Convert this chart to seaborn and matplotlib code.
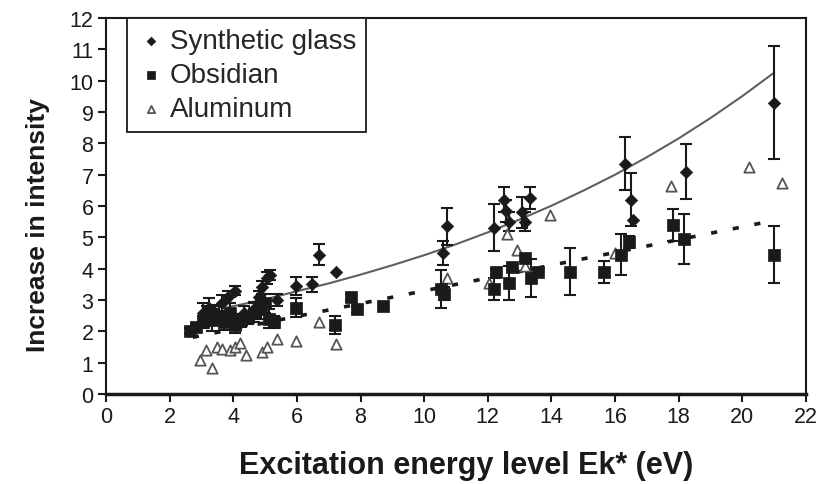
import numpy as np
import pandas as pd
import matplotlib
matplotlib.use("Agg")
import matplotlib.pyplot as plt
import seaborn as sns

# ---------------- data ----------------
glass_x = [3.04, 3.24, 3.44, 3.65, 3.85, 4.05, 4.35, 4.66, 4.81, 4.91, 5.06, 5.16, 5.37,
           5.97, 6.48, 6.68, 7.24, 10.58, 10.73, 12.18, 12.52, 12.58, 12.66, 13.06,
           13.16, 13.34, 16.3, 16.5, 16.56, 18.23, 21.0]
glass_y = [2.6, 2.75, 2.6, 2.9, 3.1, 3.3, 2.6, 2.7, 3.1, 3.4, 3.7, 3.8, 3.0,
           3.45, 3.5, 4.45, 3.9, 4.5, 5.35, 5.3, 6.2, 5.85, 5.5, 5.8,
           5.5, 6.25, 7.35, 6.2, 5.55, 7.1, 9.3]
glass_err = [0.3, 0.3, 0.25, 0.25, 0.2, 0.15, 0.2, 0.25, 0.2, 0.2, 0.2, 0.15, 0.2,
             0.3, 0.25, 0.33, 0.0, 0.37, 0.58, 0.75, 0.4, 0.35, 0.3, 0.5,
             0.3, 0.35, 0.85, 0.85, 0.0, 0.87, 1.8]

obs_x = [2.63, 2.84, 3.04, 3.19, 3.34, 3.54, 3.7, 3.9, 4.05, 4.25, 4.46, 4.66, 4.86,
         5.01, 5.11, 5.27, 5.97, 7.19, 7.7, 7.9, 8.71, 10.53, 10.63, 12.2, 12.25,
         12.66, 12.76, 13.16, 13.37, 13.57, 14.58, 15.64, 16.2, 16.45, 17.82, 18.18, 21.0]
obs_y = [2.0, 2.15, 2.3, 2.5, 2.35, 2.5, 2.3, 2.6, 2.2, 2.35, 2.45, 2.6, 2.7,
         2.9, 2.4, 2.3, 2.75, 2.2, 3.1, 2.7, 2.82, 3.35, 3.2, 3.35, 3.9,
         3.55, 4.05, 4.35, 3.7, 3.9, 3.9, 3.9, 4.45, 4.85, 5.4, 4.95, 4.45]
obs_err = [0.1, 0.1, 0.2, 0.3, 0.35, 0.3, 0.25, 0.3, 0.25, 0.2, 0.2, 0.3, 0.3,
           0.3, 0.3, 0.2, 0.3, 0.3, 0.1, 0.1, 0.0, 0.6, 0.2, 0.35, 0.1,
           0.55, 0.1, 0.1, 0.6, 0.1, 0.75, 0.35, 0.65, 0.2, 0.5, 0.8, 0.9]

alu_x = [2.94, 3.14, 3.34, 3.49, 3.65, 3.9, 4.05, 4.2, 4.4, 4.91, 5.06, 5.37,
         5.97, 6.68, 7.24, 10.73, 12.05, 12.61, 12.91, 13.16, 13.97, 16.0, 17.77, 20.2, 21.26]
alu_y = [1.1, 1.4, 0.83, 1.5, 1.45, 1.4, 1.5, 1.63, 1.25, 1.35, 1.5, 1.75,
         1.7, 2.3, 1.6, 3.7, 3.55, 5.1, 4.6, 4.1, 5.7, 4.5, 6.65, 7.25, 6.75]

# fitted curves
glass_fit_x = [3.8, 5, 6, 7, 8, 9, 10, 11, 12, 13, 14, 15, 16, 17, 18, 19, 20, 21]
glass_fit_y = [2.76, 3.02, 3.28, 3.53, 3.81, 4.11, 4.43, 4.78, 5.16, 5.57, 6.01,
               6.49, 7.0, 7.56, 8.16, 8.81, 9.51, 10.26]
obs_fit_x = [2.73, 20.66]
obs_fit_y = [1.81, 5.47]

x_ticks = list(range(0, 23, 2))
y_ticks = list(range(0, 13))

# ---------------- plotting ----------------
sns.set_theme(style="ticks")
plt.rcParams['font.family'] = ['Liberation Sans', 'DejaVu Sans']

fig = plt.figure(figsize=(8.17, 4.85), dpi=100)
ax = fig.add_axes([0.1297, 0.1856, 0.8568, 0.775])

glass = pd.DataFrame({"x": glass_x, "y": glass_y, "err": glass_err})
obs = pd.DataFrame({"x": obs_x, "y": obs_y, "err": obs_err})
alu = pd.DataFrame({"x": alu_x, "y": alu_y})

# fit lines
sns.lineplot(x=glass_fit_x, y=glass_fit_y, ax=ax, color="#606060", lw=1.5,
             legend=False, zorder=2)
sns.lineplot(x=obs_fit_x, y=obs_fit_y, ax=ax, color="#1a1a1a", lw=2.6,
             legend=False, zorder=2)
ax.lines[-1].set_dashes((1.7, 4.4))

# error bars
for df in (glass, obs):
    d = df[df["err"] > 0]
    ax.errorbar(d["x"], d["y"], yerr=d["err"], fmt="none", ecolor="#1a1a1a",
                elinewidth=1.5, capsize=4, capthick=1.5, zorder=3)

sns.scatterplot(data=alu, x="x", y="y", ax=ax, marker="^", s=55,
                facecolor="white", edgecolor="#555555", linewidth=1.3,
                label="Aluminum", zorder=4)
sns.scatterplot(data=obs, x="x", y="y", ax=ax, marker="s", s=80,
                color="#1a1a1a", edgecolor="#1a1a1a", linewidth=0.5,
                label="Obsidian", zorder=5)
sns.scatterplot(data=glass, x="x", y="y", ax=ax, marker="D", s=40,
                color="#1a1a1a", edgecolor="#1a1a1a", linewidth=0.5,
                label="Synthetic glass", zorder=6)

ax.set_xlim(0, 22)
ax.set_ylim(0, 12)
ax.set_xticks(x_ticks)
ax.set_yticks(y_ticks)
ax.tick_params(axis="both", direction="out", length=6, width=1.5,
               labelsize=15.5, colors="#1a1a1a", pad=3)
ax.tick_params(top=False, right=False)
for side in ("left", "right", "top"):
    ax.spines[side].set_linewidth(1.5)
    ax.spines[side].set_color("#1a1a1a")
ax.spines["bottom"].set_linewidth(2.5)
ax.spines["bottom"].set_color("#1a1a1a")

ax.set_xlabel("Excitation energy level Ek* (eV)", fontsize=22, fontweight="bold",
              color="#1a1a1a")
ax.set_ylabel("Increase in intensity", fontsize=19, fontweight="bold",
              color="#1a1a1a")
ax.xaxis.set_label_coords(0.514, -0.148)
ax.yaxis.set_label_coords(-0.08, 0.452)

handles, labels = ax.get_legend_handles_labels()
order = [labels.index(l) for l in ("Synthetic glass", "Obsidian", "Aluminum")]
leg = ax.legend([handles[i] for i in order], [labels[i] for i in order],
                loc="upper left", bbox_to_anchor=(0.03, 1.0), fontsize=20,
                frameon=True, fancybox=False, edgecolor="#1a1a1a",
                framealpha=1, borderpad=0.35, labelspacing=0.3,
                handletextpad=0.2, handlelength=1.0, markerscale=0.7,
                borderaxespad=0.0)
leg.get_frame().set_linewidth(1.3)

fig.savefig("out.png", dpi=100)
